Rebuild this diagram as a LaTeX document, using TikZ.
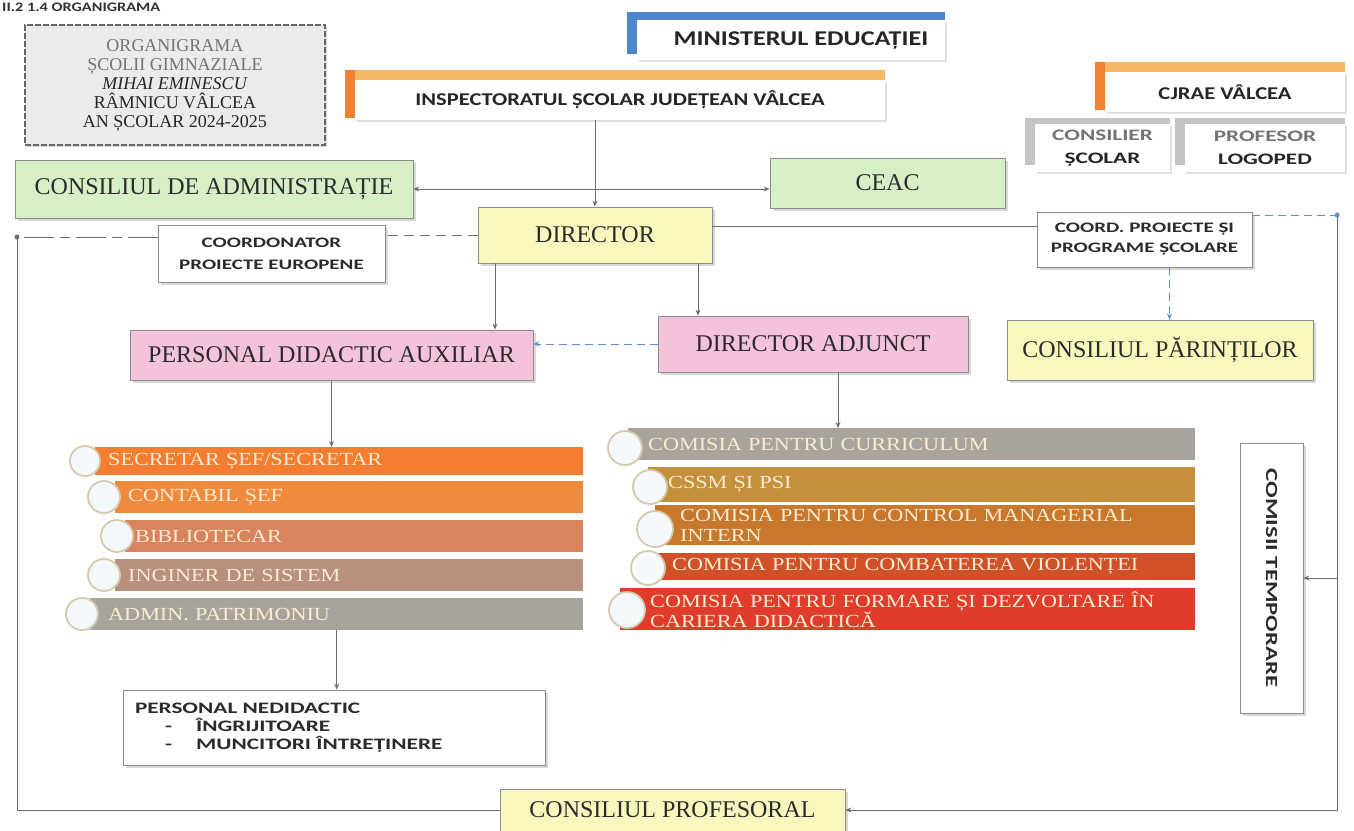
\documentclass[tikz,border=0pt]{standalone}
\usepackage{fontspec}
\setmainfont{Liberation Serif}
\newfontfamily\hsans[FakeStretch=1.25]{Carlito}
\newfontfamily\wsans[FakeStretch=1.45]{Carlito}
\newfontfamily\bserif[FakeStretch=1.2]{Liberation Serif}
\usetikzlibrary{shadows,arrows.meta}
\definecolor{cgreen}{HTML}{D6EFC6}
\definecolor{cyellow}{HTML}{FAF7BE}
\definecolor{cpink}{HTML}{F5C2DD}
\definecolor{tgray}{HTML}{EBEBEB}
\definecolor{boxline}{HTML}{8C8C8C}
\definecolor{txt}{HTML}{2B2B2B}
\definecolor{linec}{HTML}{6E6E6E}
\definecolor{blinec}{HTML}{5B8FCB}
\definecolor{cblue}{HTML}{4D86CC}
\definecolor{corange}{HTML}{F08232}
\definecolor{corangeL}{HTML}{F6B866}
\definecolor{cgrayb}{HTML}{C4C4C4}
\definecolor{bartext}{HTML}{FCEBD2}
\definecolor{bSec}{HTML}{F47D30}
\definecolor{bCont}{HTML}{F08A3E}
\definecolor{bBib}{HTML}{D8845E}
\definecolor{bIng}{HTML}{B8907E}
\definecolor{bAdm}{HTML}{A8A49C}
\definecolor{bCurr}{HTML}{A8A49C}
\definecolor{bCssm}{HTML}{C4903C}
\definecolor{bCtrl}{HTML}{C8782C}
\definecolor{bViol}{HTML}{D05028}
\definecolor{bForm}{HTML}{E03C2C}
\definecolor{circline}{HTML}{D4CAAE}
\definecolor{circfill}{HTML}{F5F8FB}
\begin{document}
\begin{tikzpicture}[x=1pt,y=-1pt,
  box/.style={rectangle, draw=boxline, line width=0.8pt, inner sep=0pt, align=center, text=txt,
    drop shadow={shadow xshift=2.5pt, shadow yshift=-2.5pt, opacity=0.3}},
  bigserif/.style={font=\fontsize{24}{28}\selectfont},
  hdr/.style={rectangle, fill=white, inner sep=0pt, align=center, text=black!85,
    drop shadow={shadow xshift=1.5pt, shadow yshift=-2pt, opacity=0.25}},
  conn/.style={draw=linec, line width=1pt},
  bline/.style={draw=blinec, line width=1pt, dash pattern=on 8pt off 5pt},
  arr/.style={-{Stealth[length=6pt,width=5pt]}},
  barbox/.style={rectangle, anchor=north west, inner ysep=0pt, align=left, text=bartext,
    font=\bserif\fontsize{18.5}{20}\selectfont},
  circ/.style={fill=circfill, draw=circline, line width=1.8pt}
]
\useasboundingbox (0,0) rectangle (1354,830);
\fill[white] (0,0) rectangle (1354,830);

% heading
\node[anchor=base west, inner sep=0pt, font=\hsans\bfseries\fontsize{13}{15}\selectfont, text=black!80] (head) at (2,11) {II.2 1.4 ORGANIGRAMA};

% title box
\node[rectangle, fill=tgray, draw=black!60, line width=1.2pt, dash pattern=on 6pt off 2pt,
  minimum width=300pt, minimum height=120pt, inner sep=0pt, align=center,
  font=\fontsize{18}{19}\selectfont, text=black!85,
  drop shadow={shadow xshift=2pt, shadow yshift=-2pt, opacity=0.3}] (title) at (175,85)
  {{\color{black!55}ORGANIGRAMA}\\{\color{black!55}ȘCOLII GIMNAZIALE}\\\textit{MIHAI EMINESCU}\\RÂMNICU VÂLCEA\\AN ȘCOLAR 2024-2025};

% header boxes
\node[hdr, minimum width=308pt, minimum height=40pt, font=\hsans\bfseries\fontsize{21}{24}\selectfont] (min) at (791,40) {\hspace*{20pt}MINISTERUL EDUCAȚIEI};
\fill[cblue] ([xshift=-10pt,yshift=8pt]min.north west) rectangle (min.north east);
\fill[cblue] ([xshift=-10pt,yshift=8pt]min.north west) rectangle ([yshift=6pt]min.south west);

\node[hdr, minimum width=530pt, minimum height=40pt, font=\hsans\bfseries\fontsize{18}{22}\selectfont] (insp) at (620,100) {INSPECTORATUL ȘCOLAR JUDEȚEAN VÂLCEA};
\fill[corangeL] ([xshift=-10pt,yshift=10pt]insp.north west) rectangle (insp.north east);
\fill[corange] ([xshift=-10pt,yshift=10pt]insp.north west) rectangle ([yshift=2pt]insp.south west);

\node[hdr, minimum width=240pt, minimum height=40pt, font=\hsans\bfseries\fontsize{18}{22}\selectfont] (cjrae) at (1225,92) {CJRAE VÂLCEA};
\fill[corangeL] ([xshift=-10pt,yshift=10pt]cjrae.north west) rectangle (cjrae.north east);
\fill[corange] ([xshift=-10pt,yshift=10pt]cjrae.north west) rectangle ([yshift=2pt]cjrae.south west);

\node[hdr, minimum width=135pt, minimum height=48pt, font=\wsans\bfseries\fontsize{16}{23}\selectfont] (cons) at (1102.5,148) {{\color{black!55}CONSILIER}\\ȘCOLAR};
\fill[cgrayb] ([xshift=-10pt,yshift=6pt]cons.north west) rectangle (cons.north east);
\fill[cgrayb] ([xshift=-10pt,yshift=6pt]cons.north west) rectangle ([yshift=7pt]cons.south west);

\node[hdr, minimum width=160pt, minimum height=48pt, font=\wsans\bfseries\fontsize{16}{23}\selectfont] (prof) at (1265,148) {{\color{black!55}PROFESOR}\\LOGOPED};
\fill[cgrayb] ([xshift=-10pt,yshift=6pt]prof.north west) rectangle (prof.north east);
\fill[cgrayb] ([xshift=-10pt,yshift=6pt]prof.north west) rectangle ([yshift=7pt]prof.south west);

% main boxes
\node[box, bigserif, fill=cgreen, minimum width=398pt, minimum height=58pt] (cadm) at (214,189) {CONSILIUL DE ADMINISTRAȚIE};
\node[box, bigserif, fill=cgreen, minimum width=235pt, minimum height=50pt] (ceac) at (887.5,183) {CEAC};
\node[box, bigserif, fill=cyellow, minimum width=234pt, minimum height=56pt] (dir) at (595,235) {DIRECTOR};
\node[box, fill=white, minimum width=227pt, minimum height=57pt, font=\wsans\bfseries\fontsize{14.5}{22}\selectfont] (ceu) at (271.5,253.5) {COORDONATOR\\PROIECTE EUROPENE};
\node[box, fill=white, minimum width=215pt, minimum height=55pt, font=\wsans\bfseries\fontsize{14.5}{20}\selectfont] (cprog) at (1144.5,239.5) {COORD. PROIECTE ȘI\\PROGRAME ȘCOLARE};
\node[box, bigserif, fill=cpink, minimum width=403pt, minimum height=50pt] (pda) at (331.5,355) {PERSONAL DIDACTIC AUXILIAR};
\node[box, bigserif, fill=cpink, minimum width=310pt, minimum height=56pt] (dadj) at (813,344) {DIRECTOR ADJUNCT};
\node[box, bigserif, fill=cyellow, minimum width=306pt, minimum height=60pt] (cpar) at (1160,350) {CONSILIUL PĂRINȚILOR};
\node[box, fill=white, minimum width=63pt, minimum height=270pt, font=\wsans\bfseries\fontsize{17}{20}\selectfont] (ctemp) at (1271.5,578) {\rotatebox{-90}{COMISII TEMPORARE}};
\node[box, fill=white, minimum width=422pt, minimum height=75pt, text width=398pt, inner xsep=12pt, align=left,
  font=\wsans\bfseries\fontsize{16}{18}\selectfont] (pned) at (334,727.5)
  {PERSONAL NEDIDACTIC\\\hspace*{30pt}-\hspace{24pt}ÎNGRIJITOARE\\\hspace*{30pt}-\hspace{24pt}MUNCITORI ÎNTREȚINERE};
\node[box, bigserif, fill=cyellow, minimum width=345pt, minimum height=42pt] (cprof) at (672.5,810) {CONSILIUL PROFESORAL};

% left bars
\node[barbox, fill=bSec, minimum height=28pt, text width=462pt, inner xsep=13pt] (sec) at (95,447) {SECRETAR ȘEF/SECRETAR};
\node[barbox, fill=bCont, minimum height=32pt, text width=442pt, inner xsep=13pt] (cont) at (115,481) {CONTABIL ȘEF};
\node[barbox, fill=bBib, minimum height=32pt, text width=438pt, inner xsep=10pt] (bib) at (125,520) {BIBLIOTECAR};
\node[barbox, fill=bIng, minimum height=32pt, text width=442pt, inner xsep=13pt] (ing) at (115,559) {INGINER DE SISTEM};
\node[barbox, fill=bAdm, minimum height=32pt, text width=457pt, inner xsep=18pt] (adm) at (90,598) {ADMIN. PATRIMONIU};
\draw[circ] (85,461) circle (15pt);
\draw[circ] (104,497) circle (16pt);
\draw[circ] (117,536) circle (16pt);
\draw[circ] (104,575) circle (16pt);
\draw[circ] (82,614) circle (16pt);

% right bars
\node[barbox, fill=bCurr, minimum height=32pt, text width=527pt, inner xsep=20pt] (curr) at (628,428) {COMISIA PENTRU CURRICULUM};
\node[barbox, fill=bCssm, minimum height=35pt, text width=507pt, inner xsep=20pt] (cssm) at (648,467) {CSSM ȘI PSI};
\node[barbox, fill=bCtrl, minimum height=40pt, text width=490pt, inner xsep=25pt] (ctrl) at (655,505) {COMISIA PENTRU CONTROL MANAGERIAL\\INTERN};
\node[barbox, fill=bViol, minimum height=27pt, text width=501pt, inner xsep=22pt] (viol) at (650,553) {COMISIA PENTRU COMBATEREA VIOLENȚEI};
\node[barbox, fill=bForm, minimum height=42pt, text width=515pt, inner xsep=30pt] (form) at (620,588) {COMISIA PENTRU FORMARE ȘI DEZVOLTARE ÎN\\CARIERA DIDACTICĂ};
\draw[circ] (625,448) circle (17pt);
\draw[circ] (650,487) circle (17pt);
\draw[circ] (655,529) circle (18pt);
\draw[circ] (648,568) circle (17pt);
\draw[circ] (627,610) circle (18pt);

% connectors
\draw[conn,arr] (dir.north |- insp.south) -- (dir.north);
\draw[conn,{Stealth[length=6pt,width=5pt]}-{Stealth[length=6pt,width=5pt]}] (cadm.east) -- (cadm.east -| ceac.west);
\draw[conn, dash pattern=on 10pt off 6pt] (dir.west) -- (dir.west -| ceu.east);
\coordinate (lt) at (17,237);
\draw[conn, dash pattern=on 30pt off 6pt on 10pt off 6pt] (ceu.west |- lt) -- (lt);
\draw[conn] (lt) -- (lt |- cprof.west) -- (cprof.west);
\fill[linec] (lt) circle (2.5pt);
\draw[conn] ([yshift=9pt]dir.east) -- ([yshift=9pt]dir.east -| cprog.west);
\coordinate (rt) at (1337,215);
\draw[bline] (cprog.east |- rt) -- (rt);
\fill[blinec] (rt) circle (2.5pt);
\draw[conn,arr] (rt) -- (rt |- cprof.east) -- (cprof.east);
\draw[conn,arr] (rt |- ctemp.east) -- (ctemp.east);
\draw[bline,arr] ([xshift=25pt]cprog.south) -- ([xshift=25pt]cprog.south |- cpar.north);
\draw[conn,arr] ([xshift=-100pt]dir.south) -- ([xshift=-100pt]dir.south |- pda.north);
\draw[conn,arr] ([xshift=103pt]dir.south) -- ([xshift=103pt]dir.south |- dadj.north);
\draw[bline,arr] (dadj.west) -- (dadj.west -| pda.east);
\draw[conn,arr] (pda.south) -- (pda.south |- sec.north);
\draw[conn,arr] ([xshift=25pt]dadj.south) -- ([xshift=25pt]dadj.south |- curr.north);
\draw[conn,arr] (adm.south) -- (adm.south |- pned.north);
\end{tikzpicture}
\end{document}
